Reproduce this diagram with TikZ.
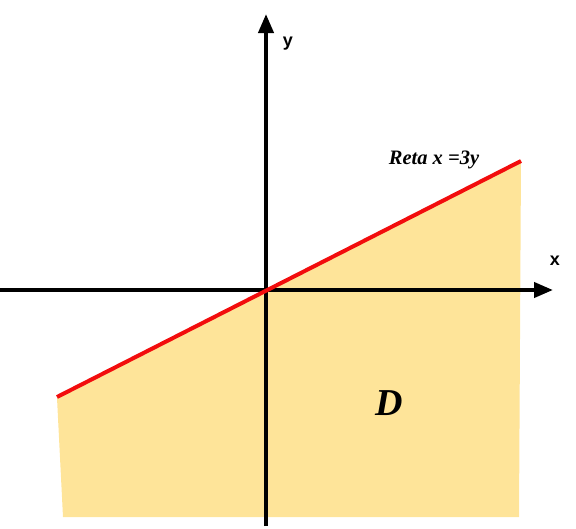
\documentclass[tikz,border=0pt]{standalone}
\usepackage{fontspec}
\setmainfont{Liberation Serif}
\setsansfont{Liberation Sans}
\usepackage{xcolor}
\usetikzlibrary{arrows.meta, positioning}
\definecolor{regioncolor}{HTML}{FEE499}
\definecolor{linecolor}{HTML}{F20D0D}

\begin{document}
\begin{tikzpicture}[x=1pt, y=-1pt,
    axis/.style={line width=4pt, -{Triangle[length=19pt, width=15pt]}},
    axislabel/.style={font=\sffamily\bfseries\fontsize{18}{18}\selectfont, inner sep=0pt}]
    \useasboundingbox (0,0) rectangle (576,528);

    % Region D
    \fill[regioncolor] (57,398) -- (521,160) -- (519,517) -- (63,517) -- cycle;

    % Axes
    \coordinate (xstart) at (0,290);
    \coordinate (xend) at (553,290);
    \coordinate (ystart) at (266,526);
    \coordinate (yend) at (266,14);
    \draw[axis] (xstart) -- (xend);
    \draw[axis] (ystart) -- (yend);
    \node[axislabel] (xlab) at (555,261) {x};
    \node[axislabel] (ylab) at (288,44) {y};

    % Line x = 3y
    \coordinate (lstart) at (57,397);
    \coordinate (lend) at (521,161);
    \draw[linecolor, line width=4pt] (lstart) -- (lend);
    \node[font=\bfseries\itshape\fontsize{20.5}{20.5}\selectfont, inner sep=0pt] (retalab) at (434,160) {Reta x =3y};

    % Label
    \node[font=\bfseries\itshape\fontsize{38}{38}\selectfont, inner sep=0pt] (dlab) at (389,403) {D};

\end{tikzpicture}
\end{document}
